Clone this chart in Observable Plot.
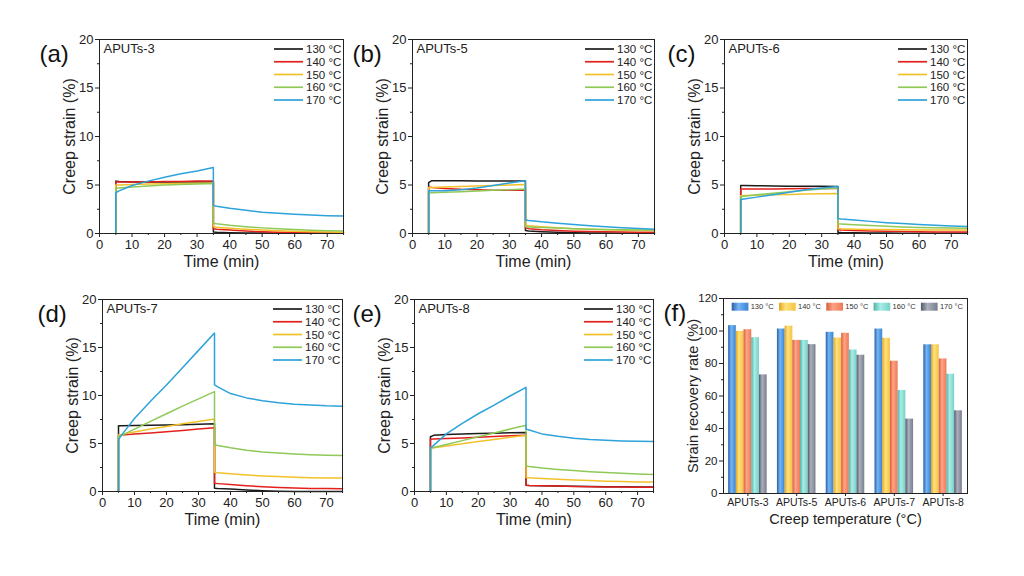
<!DOCTYPE html>
<html><head><meta charset="utf-8">
<script src="https://cdn.jsdelivr.net/npm/d3@7"></script>
<script src="https://cdn.jsdelivr.net/npm/@observablehq/plot@0.6"></script>
<style>
body{margin:0;background:#fff;}
#root{position:relative;width:1024px;height:576px;overflow:hidden;background:#fff;font-family:"Liberation Sans",Arial,Helvetica,sans-serif;}
.panel{position:absolute;}
</style></head><body>
<svg width="0" height="0" style="position:absolute"><defs id="gdefs"></defs></svg>
<div id="root"></div>
<script>
// ---------- data ----------
const temps = ["130 °C", "140 °C", "150 °C", "160 °C", "170 °C"];
const time = [5, 5, 6, 10, 15, 20, 25, 30, 35, 35, 36, 40, 45, 50, 55, 60, 65, 70, 75];

const aputs3 = [
  [0, 5.4, 5.35, 5.3, 5.3, 5.3, 5.3, 5.3, 5.3, 0.15, 0.12, 0.08, 0.05, 0.04, 0.03, 0.02, 0.02, 0.02, 0.02],
  [0, 5.3, 5.3, 5.3, 5.32, 5.35, 5.37, 5.4, 5.4, 0.5, 0.45, 0.35, 0.25, 0.18, 0.13, 0.1, 0.08, 0.06, 0.05],
  [0, 5.0, 5.0, 5.05, 5.1, 5.12, 5.15, 5.18, 5.2, 0.7, 0.65, 0.55, 0.45, 0.35, 0.28, 0.22, 0.18, 0.15, 0.14],
  [0, 4.65, 4.7, 4.8, 4.9, 5.0, 5.05, 5.1, 5.15, 1.05, 1.0, 0.85, 0.7, 0.58, 0.48, 0.4, 0.33, 0.28, 0.25],
  [0, 4.2, 4.4, 4.95, 5.4, 5.8, 6.15, 6.45, 6.8, 2.9, 2.8, 2.6, 2.4, 2.2, 2.08, 1.98, 1.9, 1.84, 1.8]
];
const aputs5 = [
  [0, 5.25, 5.45, 5.45, 5.43, 5.42, 5.4, 5.4, 5.4, 0.3, 0.25, 0.18, 0.12, 0.08, 0.05, 0.04, 0.03, 0.02, 0.02],
  [0, 4.8, 4.75, 4.65, 4.55, 4.5, 4.47, 4.45, 4.45, 0.6, 0.5, 0.38, 0.3, 0.24, 0.2, 0.17, 0.15, 0.14, 0.13],
  [0, 4.75, 4.75, 4.8, 4.85, 4.9, 4.95, 5.0, 5.05, 0.85, 0.8, 0.7, 0.6, 0.5, 0.43, 0.38, 0.34, 0.31, 0.3],
  [0, 4.2, 4.2, 4.25, 4.3, 4.38, 4.45, 4.5, 4.6, 0.7, 0.68, 0.62, 0.56, 0.5, 0.45, 0.42, 0.39, 0.37, 0.35],
  [0, 4.4, 4.4, 4.4, 4.5, 4.7, 4.95, 5.2, 5.45, 1.4, 1.35, 1.2, 1.05, 0.92, 0.8, 0.7, 0.6, 0.52, 0.45]
];
const aputs6 = [
  [0, 4.95, 4.95, 4.92, 4.9, 4.88, 4.87, 4.86, 4.85, 0.12, 0.1, 0.07, 0.05, 0.04, 0.03, 0.03, 0.02, 0.02, 0.02],
  [0, 4.6, 4.6, 4.6, 4.6, 4.62, 4.63, 4.64, 4.65, 0.38, 0.35, 0.3, 0.26, 0.22, 0.2, 0.18, 0.16, 0.15, 0.15],
  [0, 3.9, 3.92, 3.95, 4.0, 4.03, 4.06, 4.1, 4.12, 0.5, 0.48, 0.45, 0.42, 0.4, 0.38, 0.37, 0.36, 0.35, 0.35],
  [0, 3.8, 3.85, 4.0, 4.15, 4.3, 4.45, 4.6, 4.7, 1.0, 0.98, 0.9, 0.82, 0.75, 0.68, 0.63, 0.6, 0.57, 0.55],
  [0, 3.5, 3.55, 3.75, 4.0, 4.25, 4.5, 4.7, 4.85, 1.55, 1.5, 1.38, 1.25, 1.12, 1.02, 0.93, 0.85, 0.78, 0.72]
];
const aputs7 = [
  [0, 6.85, 6.85, 6.87, 6.9, 6.93, 6.96, 7.0, 7.05, 0.35, 0.32, 0.25, 0.15, 0.08, 0.03, 0.01, 0, 0, 0],
  [0, 5.85, 5.88, 5.98, 6.1, 6.22, 6.35, 6.5, 6.65, 0.85, 0.82, 0.72, 0.6, 0.5, 0.42, 0.36, 0.32, 0.3, 0.28],
  [0, 5.9, 5.95, 6.2, 6.5, 6.78, 7.05, 7.3, 7.55, 2.0, 1.95, 1.85, 1.72, 1.62, 1.55, 1.48, 1.44, 1.41, 1.4],
  [0, 5.75, 5.85, 6.5, 7.3, 8.1, 8.9, 9.65, 10.4, 4.9, 4.8, 4.55, 4.3, 4.12, 4.0, 3.9, 3.82, 3.77, 3.75],
  [0, 5.4, 5.9, 7.6, 9.4, 11.1, 12.9, 14.7, 16.5, 11.1, 10.9, 10.2, 9.75, 9.45, 9.25, 9.1, 9.0, 8.92, 8.88]
];
const aputs8 = [
  [0, 5.7, 5.85, 5.95, 6.0, 6.05, 6.08, 6.12, 6.15, 0.65, 0.63, 0.6, 0.57, 0.54, 0.52, 0.5, 0.49, 0.48, 0.47],
  [0, 5.45, 5.48, 5.52, 5.58, 5.65, 5.72, 5.8, 5.85, 0.65, 0.63, 0.6, 0.56, 0.53, 0.5, 0.48, 0.46, 0.45, 0.44],
  [0, 4.5, 4.55, 4.75, 4.98, 5.2, 5.42, 5.65, 5.85, 1.45, 1.42, 1.35, 1.27, 1.2, 1.14, 1.08, 1.03, 1.0, 0.98],
  [0, 4.5, 4.58, 4.9, 5.3, 5.7, 6.1, 6.5, 6.9, 2.65, 2.6, 2.45, 2.3, 2.18, 2.06, 1.97, 1.89, 1.83, 1.78],
  [0, 4.5, 4.8, 6.0, 7.1, 8.1, 9.0, 9.95, 10.85, 6.5, 6.4, 6.0, 5.75, 5.55, 5.42, 5.33, 5.27, 5.23, 5.2]
];

const categories = ["APUTs-3", "APUTs-5", "APUTs-6", "APUTs-7", "APUTs-8"];
const recovery130 = [103.3, 101.2, 99.2, 101.2, 91.5];
const recovery140 = [99.8, 103, 95.7, 95.5, 91.5];
const recovery150 = [100.8, 94.2, 98.6, 81.4, 82.8];
const recovery160 = [95.9, 94.2, 88.3, 63.4, 73.4];
const recovery170 = [73, 91.6, 85.1, 45.8, 50.9];

const xTicks = [0, 10, 20, 30, 40, 50, 60, 70];
const xMinor = [5, 15, 25, 35, 45, 55, 65, 75];
const yTicks = [0, 5, 10, 15, 20];
const yMinor = [2.5, 7.5, 12.5, 17.5];
const barTicks = [0, 20, 40, 60, 80, 100, 120];
const barMinor = [10, 30, 50, 70, 90, 110];

// ---------- styles ----------
const FONT = '"Liberation Sans", Arial, Helvetica, sans-serif';
const lineColors = ["#1c1c1c", "#e3201c", "#f2c12a", "#8fc957", "#2ea2da"];
const barGrad = [
  ["#2a5ea6", "#74b6f4", "#3b82d2"],
  ["#e4a41e", "#ffe27e", "#f4c240"],
  ["#d65d3e", "#ffa485", "#ec7a58"],
  ["#4fb0a8", "#a9eee6", "#77d0c8"],
  ["#525867", "#aab0bd", "#787e8e"]
];

const defs = d3.select("#gdefs");
barGrad.forEach((c, i) => {
  const g = defs.append("linearGradient").attr("id", "grad" + i).attr("x1", 0).attr("x2", 1).attr("y1", 0).attr("y2", 0);
  g.append("stop").attr("offset", "0%").attr("stop-color", c[0]);
  g.append("stop").attr("offset", "40%").attr("stop-color", c[1]);
  g.append("stop").attr("offset", "100%").attr("stop-color", c[2]);
});

const root = document.getElementById("root");
const ML = 70, MR = 12, MT = 22, MB = 44;

function lineLegend() {
  return (index, scales, values, dims) => {
    const g = d3.create("svg:g");
    const xr = dims.width - dims.marginRight;
    temps.forEach((t, i) => {
      const y = dims.marginTop + 10 + i * 12.75;
      g.append("line").attr("x1", xr - 69).attr("x2", xr - 40).attr("y1", y).attr("y2", y)
        .attr("stroke", lineColors[i]).attr("stroke-width", 1.7);
      g.append("text").attr("x", xr - 37).attr("y", y).attr("dy", "0.35em")
        .attr("text-anchor", "start").attr("font-size", 11.5).attr("fill", "#222").text(t);
    });
    return g.node();
  };
}

function linePanel({name, series, fl, ft, fw, fh, letter, ldx}) {
  const rows = [];
  series.forEach((vals, k) => vals.forEach((v, i) => rows.push({t: time[i], s: v, temp: temps[k]})));
  const p = Plot.plot({
    width: ML + fw + MR, height: MT + fh + MB,
    marginLeft: ML, marginRight: MR, marginTop: MT, marginBottom: MB,
    style: {background: "none", fontFamily: FONT, color: "#222", overflow: "visible"},
    x: {domain: [0, 75]},
    y: {domain: [0, 20]},
    color: {domain: temps, range: lineColors},
    marks: [
      Plot.axisX({ticks: xTicks, tickSize: 4, tickPadding: 2, fontSize: 13, label: null}),
      Plot.axisX({ticks: xMinor, tickSize: 2, tickFormat: () => "", label: null}),
      Plot.axisY({ticks: yTicks, tickSize: 4, tickPadding: 2, fontSize: 13, label: null}),
      Plot.axisY({ticks: yMinor, tickSize: 2, tickFormat: () => "", label: null}),
      Plot.line(rows, {x: "t", y: "s", stroke: "temp", z: "temp", strokeWidth: 1.5}),
      Plot.frame({stroke: "#222", strokeWidth: 1}),
      Plot.text([name], {text: d => d, frameAnchor: "top-left", dx: 4, dy: 9, textAnchor: "start", lineAnchor: "middle", fontSize: 13, fill: "#222"}),
      Plot.text(["Time (min)"], {text: d => d, frameAnchor: "bottom", dy: 28, textAnchor: "middle", lineAnchor: "middle", fontSize: 16, fill: "#222"}),
      Plot.text(["Creep strain (%)"], {text: d => d, frameAnchor: "left", dx: -30, rotate: -90, textAnchor: "middle", lineAnchor: "middle", fontSize: 16, fill: "#222"}),
      Plot.text([letter], {text: d => d, frameAnchor: "top-left", dx: ldx, dy: 15, textAnchor: "start", lineAnchor: "middle", fontSize: 24, fill: "#111"}),
      lineLegend()
    ]
  });
  const div = document.createElement("div");
  div.className = "panel";
  div.style.left = (fl - ML) + "px";
  div.style.top = (ft - MT) + "px";
  div.appendChild(p);
  root.appendChild(div);
}

linePanel({name: "APUTs-3", series: aputs3, fl: 99, ft: 39, fw: 244, fh: 194, letter: "(a)", ldx: -60});
linePanel({name: "APUTs-5", series: aputs5, fl: 412, ft: 39, fw: 242, fh: 194, letter: "(b)", ldx: -60});
linePanel({name: "APUTs-6", series: aputs6, fl: 724, ft: 39, fw: 243, fh: 194, letter: "(c)", ldx: -57});
linePanel({name: "APUTs-7", series: aputs7, fl: 102, ft: 299, fw: 240, fh: 192, letter: "(d)", ldx: -65});
linePanel({name: "APUTs-8", series: aputs8, fl: 414, ft: 299, fw: 239, fh: 192, letter: "(e)", ldx: -62});

// ---------- bar panel ----------
function barLegend() {
  return (index, scales, values, dims) => {
    const g = d3.create("svg:g");
    const x0 = dims.marginLeft, y0 = dims.marginTop;
    temps.forEach((t, i) => {
      const x = x0 + 8.7 + i * 47.3;
      g.append("rect").attr("x", x).attr("y", y0 + 4.7).attr("width", 16.7).attr("height", 8)
        .attr("fill", `url(#grad${i})`);
      g.append("text").attr("x", x + 19).attr("y", y0 + 8.7).attr("dy", "0.35em")
        .attr("text-anchor", "start").attr("font-size", 7.5).attr("fill", "#333").text(t);
    });
    return g.node();
  };
}

(function barPanel() {
  const fl = 723, ft = 298, fw = 244, fh = 195;
  const series = [recovery130, recovery140, recovery150, recovery160, recovery170];
  const w = 0.158;
  const barMarks = series.map((vals, k) => {
    const rows = vals.map((v, i) => ({cat: categories[i], ci: i, ti: k, v}));
    return Plot.rectY(rows, {
      x1: d => d.ci + (d.ti - 2.5) * w,
      x2: d => d.ci + (d.ti - 1.5) * w,
      y: "v",
      fill: `url(#grad${k})`
    });
  });
  const p = Plot.plot({
    width: ML + fw + MR, height: MT + fh + MB,
    marginLeft: ML, marginRight: MR, marginTop: MT, marginBottom: MB,
    style: {background: "none", fontFamily: FONT, color: "#222", overflow: "visible"},
    x: {type: "linear", domain: [-0.5, 4.5]},
    y: {domain: [0, 120]},
    marks: [
      ...barMarks,
      Plot.axisX({ticks: [0, 1, 2, 3, 4], tickFormat: i => categories[i], tickSize: 3, tickPadding: 2, fontSize: 10.5, label: null}),
      Plot.axisY({ticks: barTicks, tickSize: 4, tickPadding: 2, fontSize: 11.5, label: null}),
      Plot.axisY({ticks: barMinor, tickSize: 2, tickFormat: () => "", label: null}),
      Plot.frame({stroke: "#222", strokeWidth: 1}),
      Plot.text(["Creep temperature (°C)"], {text: d => d, frameAnchor: "bottom", dy: 25.5, textAnchor: "middle", lineAnchor: "middle", fontSize: 14.6, fill: "#222"}),
      Plot.text(["Strain recovery rate (%)"], {text: d => d, frameAnchor: "left", dx: -30, rotate: -90, textAnchor: "middle", lineAnchor: "middle", fontSize: 14.6, fill: "#222"}),
      Plot.text(["(f)"], {text: d => d, frameAnchor: "top-left", dx: -60, dy: 15, textAnchor: "start", lineAnchor: "middle", fontSize: 24, fill: "#111"}),
      barLegend()
    ]
  });
  const div = document.createElement("div");
  div.className = "panel";
  div.style.left = (fl - ML) + "px";
  div.style.top = (ft - MT) + "px";
  div.appendChild(p);
  root.appendChild(div);
})();
</script>
</body></html>
